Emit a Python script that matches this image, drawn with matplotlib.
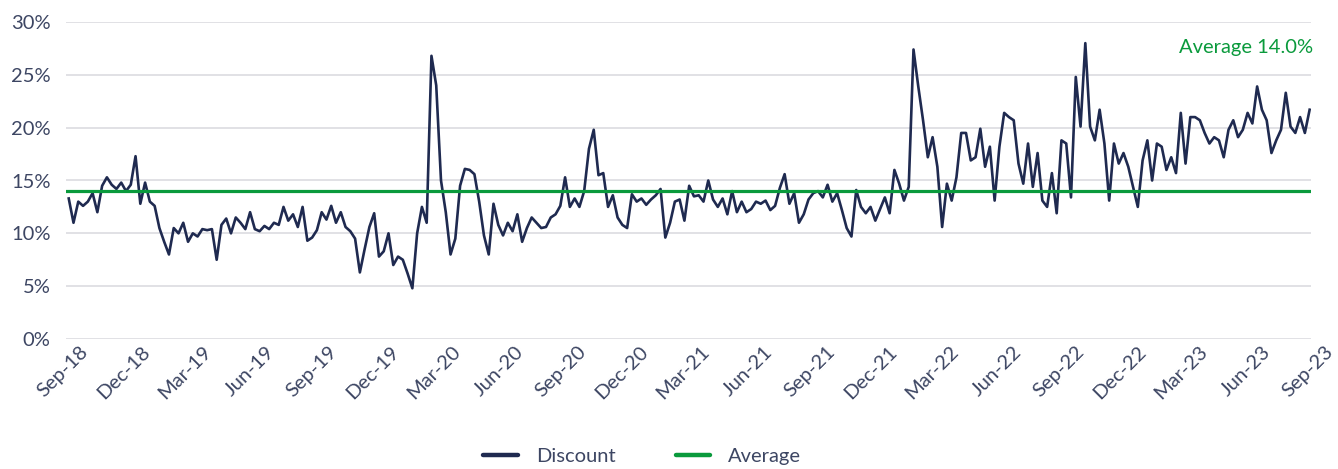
import numpy as np
import pandas as pd
import matplotlib
matplotlib.use("Agg")
import matplotlib.pyplot as plt
import matplotlib.dates as mdates
import matplotlib.transforms as mtransforms
from matplotlib.ticker import FuncFormatter, MultipleLocator

# weekly discount readings (%), Sep-18 .. Aug-23
disc_y1 = [13.3, 11.0, 13.0, 12.6, 13.0, 13.8, 12.0, 14.5, 15.3, 14.6,
           14.2, 14.8, 14.0, 14.6, 17.3, 12.8, 14.8, 13.0, 12.6, 10.5,
           9.2, 8.0, 10.5, 10.0, 11.0, 9.2, 10.0, 9.7, 10.4, 10.3,
           10.4, 7.5, 10.8, 11.4, 10.0, 11.5, 11.0, 10.4, 12.0, 10.4,
           10.2, 10.7, 10.4, 11.0, 10.8, 12.5, 11.2, 11.8, 10.6, 12.5,
           9.3, 9.6]
disc_y2 = [10.3, 12.0, 11.3, 12.6, 11.0, 12.0, 10.6, 10.2,
           9.5, 6.3, 8.5, 10.6, 11.9, 7.8, 8.3, 10.0, 7.0, 7.8,
           7.5, 6.2, 4.8, 10.0, 12.5, 11.0, 26.8, 24.0, 15.0, 12.0,
           8.0, 9.5, 14.5, 16.1, 16.0, 15.6, 13.0, 9.8, 8.0, 12.8,
           10.8, 9.8, 11.0, 10.2, 11.8, 9.2, 10.5, 11.5, 11.0, 10.5,
           10.6, 11.5, 11.8, 12.6]
disc_y3 = [15.3, 12.5, 13.3, 12.5, 14.0, 18.0,
           19.8, 15.5, 15.7, 12.5, 13.6, 11.5, 10.8, 10.5, 13.7, 13.0,
           13.3, 12.7, 13.2, 13.6, 14.2, 9.6, 11.0, 13.0, 13.2, 11.2,
           14.5, 13.5, 13.6, 13.0, 15.0, 13.2, 12.5, 13.3, 11.8, 14.0,
           12.0, 13.0, 12.0, 12.3, 13.0, 12.8, 13.1, 12.2, 12.6, 14.3,
           15.6, 12.8, 13.8, 11.0, 11.8, 13.2]
disc_y4 = [13.8, 14.0, 13.4, 14.6,
           13.0, 13.8, 12.2, 10.5, 9.7, 14.1, 12.5, 11.9, 12.5, 11.2,
           12.3, 13.4, 11.9, 16.0, 14.7, 13.1, 14.4, 27.4, 23.9, 20.7,
           17.2, 19.1, 16.3, 10.6, 14.7, 13.1, 15.3, 19.5, 19.5, 16.9,
           17.2, 19.9, 16.3, 18.2, 13.1, 18.2, 21.4, 21.0, 20.7, 16.6,
           14.7, 18.5, 14.4, 17.6, 13.1, 12.5, 15.7, 11.9]
disc_y5 = [18.8, 18.5,
           13.4, 24.8, 20.1, 28.0, 20.1, 18.8, 21.7, 18.5, 13.1, 18.5,
           16.6, 17.6, 16.3, 14.4, 12.5, 16.9, 18.8, 15.0, 18.5, 18.2,
           16.0, 17.2, 15.7, 21.4, 16.6, 21.0, 21.0, 20.7, 19.5, 18.5,
           19.1, 18.8, 17.2, 19.8, 20.7, 19.1, 19.8, 21.4, 20.4, 23.9,
           21.7, 20.7, 17.6, 18.8, 19.8, 23.3, 20.1, 19.5, 21.0, 19.5,
           21.7]
average = 14.0

discount = disc_y1 + disc_y2 + disc_y3 + disc_y4 + disc_y5
dates = pd.date_range("2018-09-05", periods=len(discount), freq="7D")

navy = "#1f2a50"
green = "#0a9a3c"
text_col = "#3d4663"

plt.rcParams["font.family"] = ["Lato", "DejaVu Sans"]

fig = plt.figure(figsize=(13.38, 4.69), dpi=100)
ax = fig.add_axes([66 / 1338, 1 - 339 / 469, (1311 - 66) / 1338, (339 - 22) / 469])

ax.plot(dates, discount, color=navy, lw=1.9, label="Discount", zorder=3)
ax.axhline(average, color=green, lw=2.3, label="Average", zorder=4)

ax.set_ylim(0, 30)
ax.set_xlim(pd.Timestamp("2018-09-01"), pd.Timestamp("2023-09-01"))
ax.yaxis.set_major_locator(MultipleLocator(5))
ax.yaxis.set_major_formatter(FuncFormatter(lambda v, p: "%d%%" % v))
ax.xaxis.set_major_locator(mdates.MonthLocator(bymonth=[3, 6, 9, 12]))
ax.xaxis.set_major_formatter(mdates.DateFormatter("%b-%y"))

ax.grid(axis="y", color="#dcdce0", lw=1.2)
ax.set_axisbelow(True)
for s in ax.spines.values():
    s.set_visible(False)
ax.tick_params(axis="both", length=0, labelsize=14.5, labelcolor=text_col)
ax.tick_params(axis="y", pad=11)
ax.tick_params(axis="x", pad=3)

shift = mtransforms.ScaledTranslation(0.13, 0, fig.dpi_scale_trans)
for lab in ax.get_xticklabels():
    lab.set_rotation(45)
    lab.set_ha("right")
    lab.set_va("top")
    lab.set_rotation_mode("anchor")
    lab.set_transform(lab.get_transform() + shift)

ax.text(1.002, 0.92, "Average %.1f%%" % average, transform=ax.transAxes,
        ha="right", va="center", color=green, fontsize=14.5)

handles, labels = ax.get_legend_handles_labels()
leg = fig.legend(handles, labels, loc="center", bbox_to_anchor=(0.48, 0.026),
                 ncol=2, frameon=False, fontsize=14.5, handlelength=1.7,
                 handletextpad=0.9, columnspacing=3.0, labelcolor=text_col)
for ln in leg.get_lines():
    ln.set_linewidth(3.2)
    ln.set_solid_capstyle("round")

fig.savefig("out.png", dpi=100)
